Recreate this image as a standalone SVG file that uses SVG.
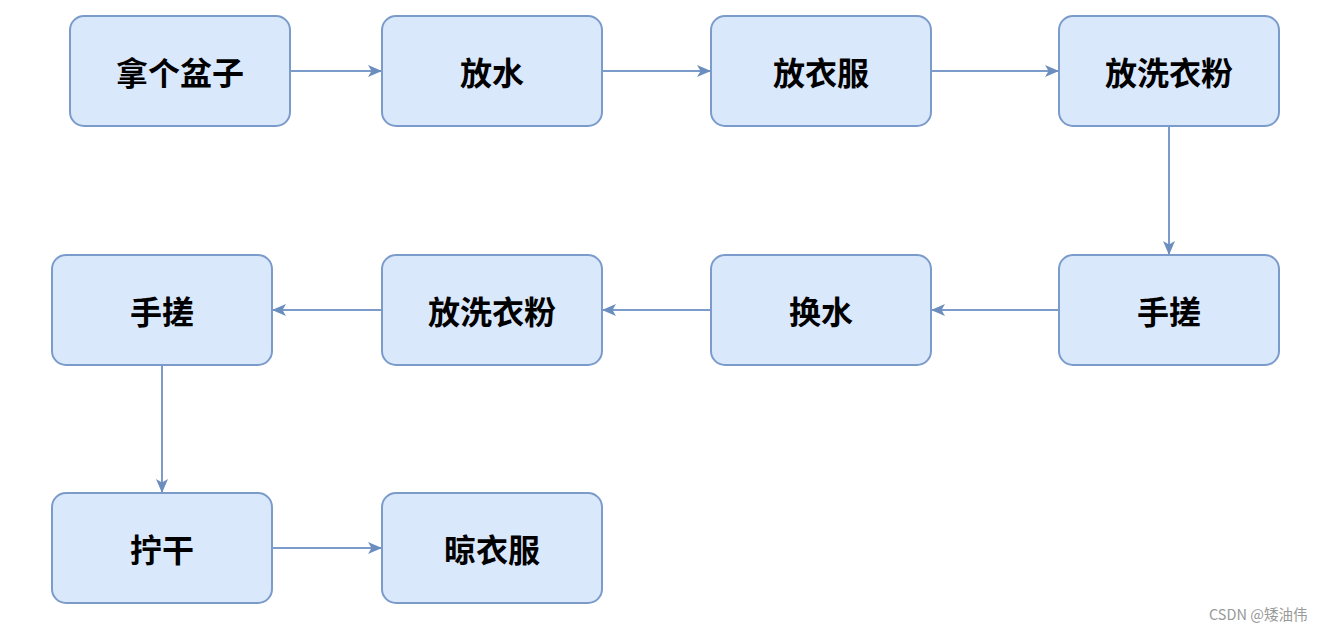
<svg xmlns="http://www.w3.org/2000/svg" width="1324" height="631" viewBox="0 0 1324 631">
<defs>
<marker id="arr" viewBox="0 0 14 14" refX="13" refY="7" markerWidth="14" markerHeight="14" markerUnits="userSpaceOnUse" orient="auto">
<path d="M0,1 L14,7 L0,13 L3.5,7 Z" fill="#6c8ebf"/>
</marker>
<style>
.box{fill:#dae8fc;stroke:#7b9bcb;stroke-width:2}
.lbl{font-family:"Noto Sans CJK SC","Noto Sans",sans-serif;font-weight:bold;font-size:32px;fill:#000;text-anchor:middle;dominant-baseline:central}
.edge{fill:none;stroke:#7b9bcb;stroke-width:2;marker-end:url(#arr)}
.wm{font-family:"Noto Sans CJK SC","Liberation Sans",sans-serif;font-size:14.5px;fill:#999}
</style>
</defs>
<rect width="1324" height="631" fill="#fff"/>
<g id="connectors">
<path class="edge" d="M290,71 L381,71"/>
<path class="edge" d="M602,71 L710,71"/>
<path class="edge" d="M931,71 L1058,71"/>
<path class="edge" d="M1169,126 L1169,254"/>
<path class="edge" d="M1059,310 L932,310"/>
<path class="edge" d="M711,310 L603,310"/>
<path class="edge" d="M382,310 L273,310"/>
<path class="edge" d="M162,365 L162,492"/>
<path class="edge" d="M272,548 L381,548"/>
</g>
<g id="n1"><rect class="box" x="70" y="16" width="220" height="110" rx="14"/><text class="lbl" x="180" y="71">拿个盆子</text></g>
<g id="n2"><rect class="box" x="382" y="16" width="220" height="110" rx="14"/><text class="lbl" x="492" y="71">放水</text></g>
<g id="n3"><rect class="box" x="711" y="16" width="220" height="110" rx="14"/><text class="lbl" x="821" y="71">放衣服</text></g>
<g id="n4"><rect class="box" x="1059" y="16" width="220" height="110" rx="14"/><text class="lbl" x="1169" y="71">放洗衣粉</text></g>
<g id="n5"><rect class="box" x="1059" y="255" width="220" height="110" rx="14"/><text class="lbl" x="1169" y="310">手搓</text></g>
<g id="n6"><rect class="box" x="711" y="255" width="220" height="110" rx="14"/><text class="lbl" x="821" y="310">换水</text></g>
<g id="n7"><rect class="box" x="382" y="255" width="220" height="110" rx="14"/><text class="lbl" x="492" y="310">放洗衣粉</text></g>
<g id="n8"><rect class="box" x="52" y="255" width="220" height="110" rx="14"/><text class="lbl" x="162" y="310">手搓</text></g>
<g id="n9"><rect class="box" x="52" y="493" width="220" height="110" rx="14"/><text class="lbl" x="162" y="548">拧干</text></g>
<g id="n10"><rect class="box" x="382" y="493" width="220" height="110" rx="14"/><text class="lbl" x="492" y="548">晾衣服</text></g>
<text class="wm" x="1209" y="620">CSDN @矮油伟</text>
</svg>
